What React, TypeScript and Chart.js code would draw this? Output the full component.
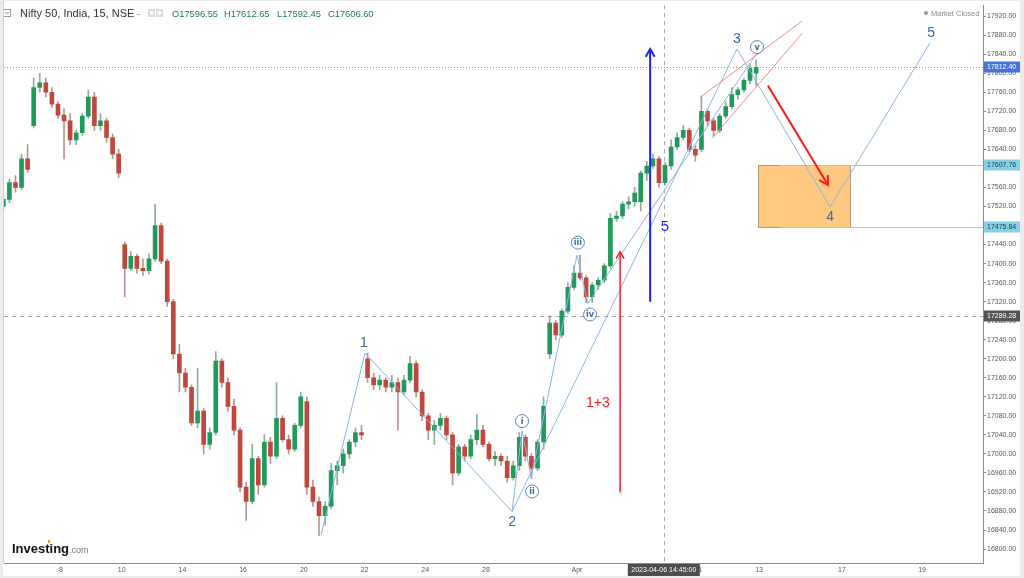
import React, { useEffect, useRef } from "react";
import { Chart, registerables } from "chart.js";

Chart.register(...registerables);

// ---------- DATA ----------
// sessions (trading days): 0 = Mar 3 (partial), 1 = Mar 6, 2 = Mar 8 ... 24 = Apr 12
const sessionDates = [
  "2023-03-03", "2023-03-06", "2023-03-08", "2023-03-09", "2023-03-10",
  "2023-03-13", "2023-03-14", "2023-03-15", "2023-03-16", "2023-03-17",
  "2023-03-20", "2023-03-21", "2023-03-22", "2023-03-23", "2023-03-24",
  "2023-03-27", "2023-03-28", "2023-03-29", "2023-03-31", "2023-04-03",
  "2023-04-05", "2023-04-06", "2023-04-10", "2023-04-11", "2023-04-12",
];
const candlesPerSession = 5;

const opens = [
  17520, 17535, 17570, 17560, 17620,
  17690, 17770, 17780, 17760, 17735,
  17712, 17700, 17660, 17675, 17710,
  17750, 17690, 17700, 17665, 17630,
  17440, 17390, 17415, 17390, 17385,
  17410, 17480, 17405, 17320, 17210,
  17170, 17140, 17065, 17090, 17020,
  17045, 17195, 17150, 17100, 17050,
  16930, 16900, 16990, 16935, 17025,
  16995, 17075, 17030, 17010, 17060,
  17110, 16930, 16900, 16870, 16890,
  16965, 16975, 17000, 17025, 17045,
  17200, 17160, 17145, 17155, 17140,
  17150, 17130, 17155, 17190, 17130,
  17080, 17050, 17060, 17075, 17040,
  16960, 17015, 16995, 17030, 17050,
  17020, 16990, 16995, 16985, 16950,
  16975, 17035, 16995, 16970, 17025,
  17210, 17275, 17250, 17300, 17350,
  17380, 17370, 17330, 17355, 17365,
  17395, 17495, 17500, 17525, 17530,
  17530, 17590, 17605, 17620, 17570,
  17605, 17645, 17665, 17680, 17640,
  17640, 17720, 17700, 17680, 17710,
  17730, 17755, 17765, 17785, 17800,
];
const highs = [
  17545, 17578, 17585, 17630, 17650,
  17790, 17800, 17790, 17770, 17740,
  17725, 17715, 17680, 17715, 17765,
  17760, 17715, 17705, 17672, 17640,
  17445, 17425, 17420, 17410, 17420,
  17525, 17485, 17410, 17325, 17230,
  17180, 17145, 17180, 17095, 17055,
  17215, 17200, 17160, 17115, 17055,
  16940, 17020, 16995, 17040, 17035,
  17150, 17080, 17040, 17065, 17130,
  17120, 16945, 16910, 16900, 16980,
  16985, 17010, 17030, 17055, 17060,
  17212, 17170, 17165, 17160, 17165,
  17160, 17165, 17205, 17195, 17135,
  17085, 17070, 17085, 17080, 17045,
  17020, 17020, 17040, 17083, 17060,
  17025, 17005, 17000, 16995, 16985,
  17045, 17040, 17000, 17030, 17120,
  17290, 17280, 17305, 17360, 17395,
  17418, 17375, 17360, 17370, 17400,
  17505, 17510, 17530, 17540, 17560,
  17595, 17615, 17630, 17625, 17612,
  17660, 17675, 17690, 17685, 17648,
  17752, 17725, 17705, 17715, 17740,
  17770, 17770, 17790, 17820, 17828,
];
const lows = [
  17510, 17528, 17550, 17555, 17592,
  17685, 17760, 17750, 17728, 17705,
  17620, 17650, 17650, 17670, 17705,
  17680, 17680, 17655, 17620, 17580,
  17330, 17385, 17380, 17375, 17378,
  17405, 17400, 17310, 17200, 17130,
  17130, 17060, 17055, 17000, 17010,
  17040, 17140, 17090, 17040, 16920,
  16860, 16895, 16915, 16930, 16980,
  16990, 17025, 17000, 17005, 17055,
  16915, 16890, 16828, 16850, 16885,
  16935, 16960, 16990, 17015, 17030,
  17150, 17135, 17135, 17130, 17130,
  17050, 17125, 17150, 17120, 17070,
  17030, 17020, 17050, 17030, 16935,
  16955, 16985, 16990, 17020, 17015,
  16985, 16975, 16975, 16940, 16945,
  16965, 16985, 16948, 16965, 17010,
  17200, 17240, 17245, 17295, 17345,
  17365, 17318, 17318, 17345, 17360,
  17390, 17488, 17495, 17515, 17520,
  17510, 17575, 17600, 17560, 17565,
  17598, 17640, 17660, 17635, 17615,
  17635, 17690, 17668, 17675, 17705,
  17725, 17745, 17760, 17778, 17774,
];
const closes = [
  17535, 17570, 17560, 17620, 17598,
  17770, 17780, 17760, 17735, 17712,
  17700, 17660, 17675, 17710, 17750,
  17690, 17700, 17665, 17630, 17590,
  17390, 17415, 17390, 17385, 17410,
  17480, 17405, 17320, 17210, 17170,
  17140, 17065, 17090, 17020, 17045,
  17195, 17150, 17100, 17050, 16930,
  16900, 16990, 16935, 17025, 16995,
  17075, 17030, 17010, 17060, 17120,
  16930, 16900, 16870, 16890, 16965,
  16975, 17000, 17025, 17045, 17040,
  17160, 17145, 17155, 17140, 17150,
  17130, 17155, 17190, 17130, 17080,
  17050, 17060, 17075, 17040, 16960,
  17015, 16995, 17030, 17050, 17020,
  16990, 16995, 16985, 16950, 16975,
  17035, 16995, 16970, 17025, 17100,
  17275, 17250, 17300, 17350, 17380,
  17370, 17330, 17355, 17365, 17395,
  17495, 17500, 17525, 17530, 17548,
  17590, 17605, 17620, 17570, 17606.6,
  17645, 17665, 17680, 17640, 17628,
  17720, 17700, 17680, 17710, 17730,
  17755, 17765, 17785, 17810, 17812.4,
];

// axes
const xMin = 0.122;
const xMax = 32.376;
const yMin = 16770.7;
const yMax = 17943;
const xTickValues = [2, 4, 6, 8, 10, 12, 14, 16, 19, 23, 25, 27.73, 30.37];
const xTickLabels = ["8", "10", "14", "16", "20", "22", "24", "28", "Apr", "11", "13", "17", "19"];
const yTickValues = [
  16800, 16840, 16880, 16920, 16960, 17000, 17040, 17080, 17120, 17160, 17200,
  17240, 17280, 17320, 17360, 17400, 17440, 17480, 17520, 17560, 17600, 17640,
  17680, 17720, 17760, 17800, 17840, 17880, 17920,
];

// header / reference values
const headerTitle = "Nifty 50, India, 15, NSE";
const headerOHLC = ["O17596.55", "H17612.65", "L17592.45", "C17606.60"];
const lastPrice = 17812.4;
const crosshairX = 21.86;
const crosshairPrice = 17289.28;
const crosshairTimeLabel = "2023-04-06 14:45:00";
const zoneTop = 17607.76;
const zoneBottom = 17475.84;
const zoneStartX = 24.97;
const zoneEndX = 28.0;
const zoneLineStartX = 25.72;

// Elliott wave annotations (x in sessions, y in price)
const mainWaveX = [10.567, 12.016, 16.86, 24.27, 27.34, 30.63];
const mainWaveY = [16829, 17212, 16879, 17851, 17519, 17864];
const mainLabelText = ["1", "2", "3", "4", "5"];
const mainLabelX = [11.98, 16.86, 24.27, 27.34, 30.67];
const mainLabelY = [17232, 16856, 17872, 17498, 17884];

const subWaveX = [16.86, 17.19, 17.49, 19.0, 19.36, 24.9];
const subWaveY = [16879, 17049, 16950, 17418, 17316, 17840];
const subLabelText = ["i", "ii", "iii", "iv", "v"];
const subLabelX = [17.19, 17.52, 19.03, 19.43, 24.93];
const subLabelY = [17069, 16921, 17444, 17293, 17855];

const channelUpperX = [23.05, 26.42];
const channelUpperY = [17749, 17910];
const channelLowerX = [23.45, 26.42];
const channelLowerY = [17663, 17884];

const redDownArrowX = [25.29, 27.27];
const redDownArrowY = [17774, 17565];
const redUpArrowX = 20.42;
const redUpArrowY = [16919, 17425];
const redUpText = "1+3";
const redUpTextPos = [19.69, 17107];
const blueArrowX = 21.41;
const blueArrowY = [17320, 17851];
const blueText = "5";
const blueTextPos = [21.9, 17477];

// ---------- helpers ----------
const upColor = "#1f9a5b";
const downColor = "#c0473d";

function buildCandles() {
  const bodies: any[] = [];
  const wicks: any[] = [];
  const bodyColors: string[] = [];
  const wickColors: string[] = [];
  for (let i = 0; i < closes.length; i++) {
    const session = Math.floor(i / candlesPerSession);
    const slot = i % candlesPerSession;
    const x = session + (slot + 0.5) / candlesPerSession;
    const up = closes[i] >= opens[i];
    bodies.push({ x, y: [opens[i], closes[i]] });
    wicks.push({ x, y: [lows[i], highs[i]] });
    bodyColors.push(up ? upColor : downColor);
    wickColors.push(up ? "rgba(90,140,115,0.7)" : "rgba(150,105,100,0.7)");
  }
  return { bodies, wicks, bodyColors, wickColors };
}

function arrowHead(ctx: CanvasRenderingContext2D, x1: number, y1: number, x2: number, y2: number, len: number) {
  const ang = Math.atan2(y2 - y1, x2 - x1);
  const a1 = ang + Math.PI - Math.PI / 6;
  const a2 = ang + Math.PI + Math.PI / 6;
  ctx.beginPath();
  ctx.moveTo(x2 + Math.cos(a1) * len, y2 + Math.sin(a1) * len);
  ctx.lineTo(x2, y2);
  ctx.lineTo(x2 + Math.cos(a2) * len, y2 + Math.sin(a2) * len);
  ctx.stroke();
}

function seg(ctx: CanvasRenderingContext2D, x1: number, y1: number, x2: number, y2: number) {
  ctx.beginPath();
  ctx.moveTo(x1, y1);
  ctx.lineTo(x2, y2);
  ctx.stroke();
}

const overlayPlugin = {
  id: "overlay",
  beforeDraw(chart: any) {
    const { ctx, width, height } = chart;
    ctx.save();
    ctx.fillStyle = "#ffffff";
    ctx.fillRect(0, 0, width, height);
    ctx.restore();
  },
  beforeDatasetsDraw(chart: any) {
    const { ctx, chartArea: a, scales } = chart;
    const X = (v: number) => scales.x.getPixelForValue(v);
    const Y = (v: number) => scales.y.getPixelForValue(v);
    ctx.save();
    ctx.beginPath();
    ctx.rect(a.left, a.top, a.right - a.left, a.bottom - a.top);
    ctx.clip();
    ctx.lineWidth = 1;
    // crosshair
    ctx.strokeStyle = "#a8a8a8";
    ctx.setLineDash([4, 4]);
    const cx = Math.round(X(crosshairX)) + 0.5;
    seg(ctx, cx, a.top, cx, a.bottom);
    const cy = Math.round(Y(crosshairPrice)) + 0.5;
    seg(ctx, a.left, cy, a.right, cy);
    // last price dotted line
    ctx.strokeStyle = "#7d98ee";
    ctx.setLineDash([1, 2]);
    const ly = Math.round(Y(lastPrice)) + 0.5;
    seg(ctx, a.left, ly, a.right, ly);
    ctx.setLineDash([]);
    // zone box
    const bx1 = Math.round(X(zoneStartX)) + 0.5;
    const bx2 = Math.round(X(zoneEndX)) + 0.5;
    const by1 = Math.round(Y(zoneTop)) + 0.5;
    const by2 = Math.round(Y(zoneBottom)) + 0.5;
    ctx.fillStyle = "#ffc880";
    ctx.fillRect(bx1, by1, bx2 - bx1, by2 - by1);
    ctx.strokeStyle = "#b79c7c";
    ctx.strokeRect(bx1, by1, bx2 - bx1, by2 - by1);
    ctx.strokeStyle = "#8ed0e6";
    const lx = X(zoneLineStartX);
    seg(ctx, lx, by1, a.right, by1);
    seg(ctx, lx, by2, a.right, by2);
    ctx.restore();
  },
  afterDatasetsDraw(chart: any) {
    const { ctx, chartArea: a, scales } = chart;
    const X = (v: number) => scales.x.getPixelForValue(v);
    const Y = (v: number) => scales.y.getPixelForValue(v);
    ctx.save();
    ctx.beginPath();
    ctx.rect(a.left, a.top, a.right - a.left, a.bottom - a.top);
    ctx.clip();

    // wave lines
    ctx.strokeStyle = "#8db6e0";
    ctx.lineWidth = 1;
    ctx.beginPath();
    mainWaveX.forEach((v, i) => {
      if (i === 0) ctx.moveTo(X(v), Y(mainWaveY[i]));
      else ctx.lineTo(X(v), Y(mainWaveY[i]));
    });
    ctx.stroke();
    ctx.beginPath();
    subWaveX.forEach((v, i) => {
      if (i === 0) ctx.moveTo(X(v), Y(subWaveY[i]));
      else ctx.lineTo(X(v), Y(subWaveY[i]));
    });
    ctx.stroke();

    // red channel
    ctx.strokeStyle = "#f48a8a";
    seg(ctx, X(channelUpperX[0]), Y(channelUpperY[0]), X(channelUpperX[1]), Y(channelUpperY[1]));
    seg(ctx, X(channelLowerX[0]), Y(channelLowerY[0]), X(channelLowerX[1]), Y(channelLowerY[1]));

    // red down arrow
    ctx.strokeStyle = "#ff1a1a";
    ctx.lineWidth = 2;
    const rx1 = X(redDownArrowX[0]), ry1 = Y(redDownArrowY[0]);
    const rx2 = X(redDownArrowX[1]), ry2 = Y(redDownArrowY[1]);
    seg(ctx, rx1, ry1, rx2, ry2);
    arrowHead(ctx, rx1, ry1, rx2, ry2, 10);

    // red up arrow
    ctx.lineWidth = 1.5;
    const ux = X(redUpArrowX);
    seg(ctx, ux, Y(redUpArrowY[0]), ux, Y(redUpArrowY[1]));
    arrowHead(ctx, ux, Y(redUpArrowY[0]), ux, Y(redUpArrowY[1]), 8);
    ctx.fillStyle = "#ff1a1a";
    ctx.font = "14px 'Liberation Sans', Arial, sans-serif";
    ctx.textAlign = "center";
    ctx.textBaseline = "middle";
    ctx.fillText(redUpText, X(redUpTextPos[0]), Y(redUpTextPos[1]));

    // blue arrow
    ctx.strokeStyle = "#1f1fff";
    ctx.lineWidth = 2;
    const bx = X(blueArrowX);
    seg(ctx, bx, Y(blueArrowY[0]), bx, Y(blueArrowY[1]));
    arrowHead(ctx, bx, Y(blueArrowY[0]), bx, Y(blueArrowY[1]), 9);
    ctx.fillStyle = "#1f1fff";
    ctx.font = "15px 'Liberation Sans', Arial, sans-serif";
    ctx.fillText(blueText, X(blueTextPos[0]), Y(blueTextPos[1]));

    // wave numbers
    ctx.fillStyle = "#3b6b9c";
    ctx.font = "14px 'Liberation Sans', Arial, sans-serif";
    mainLabelText.forEach((t, i) => {
      ctx.fillText(t, X(mainLabelX[i]), Y(mainLabelY[i]));
    });

    // roman circles
    ctx.lineWidth = 1;
    subLabelText.forEach((t, i) => {
      const px = X(subLabelX[i]);
      const py = Y(subLabelY[i]);
      ctx.beginPath();
      ctx.arc(px, py, 6.5, 0, Math.PI * 2);
      ctx.fillStyle = "#ffffff";
      ctx.fill();
      ctx.strokeStyle = "#5b87b8";
      ctx.stroke();
      ctx.fillStyle = "#3b6b9c";
      ctx.font = "bold 8px 'DejaVu Sans', sans-serif";
      ctx.fillText(t, px, py + 0.5);
    });
    ctx.restore();
  },
  afterDraw(chart: any) {
    const { ctx, chartArea: a, scales, width, height } = chart;
    const X = (v: number) => scales.x.getPixelForValue(v);
    const Y = (v: number) => scales.y.getPixelForValue(v);
    ctx.save();
    // axis price labels
    const tag = (v: number, bg: string, fg: string) => {
      const yy = Math.round(Y(v));
      ctx.fillStyle = bg;
      ctx.fillRect(a.right + 1, yy - 5.5, 36, 11);
      ctx.fillStyle = fg;
      ctx.font = "7px 'Liberation Sans', Arial, sans-serif";
      ctx.textAlign = "left";
      ctx.textBaseline = "middle";
      ctx.fillText(v.toFixed(2), a.right + 4, yy + 0.5);
    };
    tag(lastPrice, "#4672dc", "#ffffff");
    tag(zoneTop, "#86d0e4", "#1c3c4a");
    tag(zoneBottom, "#86d0e4", "#1c3c4a");
    tag(crosshairPrice, "#555555", "#ffffff");

    // crosshair time label
    const cx = X(crosshairX);
    ctx.fillStyle = "#4d4d4d";
    ctx.fillRect(cx - 36, a.bottom + 1, 72, 13);
    ctx.fillStyle = "#ffffff";
    ctx.font = "7px 'Liberation Sans', Arial, sans-serif";
    ctx.textAlign = "center";
    ctx.textBaseline = "middle";
    ctx.fillText(crosshairTimeLabel, cx, a.bottom + 7.5);

    // header
    ctx.strokeStyle = "#9a9a9a";
    ctx.lineWidth = 1;
    ctx.strokeRect(3.5, 9.5, 7, 7);
    seg(ctx, 5, 13, 9, 13);
    ctx.fillStyle = "#333333";
    ctx.font = "11px 'Liberation Sans', Arial, sans-serif";
    ctx.textAlign = "left";
    ctx.textBaseline = "middle";
    ctx.fillText(headerTitle, 20, 14);
    ctx.fillStyle = "#b0b0b0";
    ctx.fillRect(137, 14, 3, 1);
    ctx.fillStyle = "#dcdcdc";
    ctx.fillRect(148, 9, 7, 8);
    ctx.fillRect(156, 9, 7, 8);
    ctx.fillStyle = "#ffffff";
    ctx.beginPath();
    ctx.arc(151.5, 13, 2, 0, Math.PI * 2);
    ctx.arc(159.5, 13, 2, 0, Math.PI * 2);
    ctx.fill();
    ctx.fillStyle = "#1d7d48";
    ctx.font = "9.3px 'Liberation Sans', Arial, sans-serif";
    const ohlcX = [172, 224, 277, 328];
    headerOHLC.forEach((t, i) => ctx.fillText(t, ohlcX[i], 14));

    // market closed
    ctx.fillStyle = "#999999";
    ctx.beginPath();
    ctx.arc(926, 13, 2, 0, Math.PI * 2);
    ctx.fill();
    ctx.fillStyle = "#8a8a8a";
    ctx.font = "7.5px 'Liberation Sans', Arial, sans-serif";
    ctx.fillText("Market Closed", 931, 13.5);

    // logo
    ctx.fillStyle = "#111111";
    ctx.font = "bold 13px 'Liberation Sans', Arial, sans-serif";
    ctx.textBaseline = "alphabetic";
    ctx.fillText("Investing", 12, 553);
    const w = ctx.measureText("Investing").width;
    ctx.fillStyle = "#7a7a7a";
    ctx.font = "9px 'Liberation Sans', Arial, sans-serif";
    ctx.fillText(".com", 12 + w, 553);
    ctx.fillStyle = "#f29b20";
    ctx.fillRect(48, 540, 2, 3);

    // frame
    ctx.fillStyle = "#ececec";
    ctx.fillRect(0, 0, width, 1);
    ctx.fillRect(0, 0, 3, height);
    ctx.fillRect(width - 4, 0, 4, height);
    ctx.fillRect(0, height - 2, width, 2);
    ctx.fillStyle = "#cfcfcf";
    ctx.fillRect(3, 1, 1, a.bottom - 1);
    ctx.restore();
  },
};

export default function App() {
  const canvasRef = useRef<HTMLCanvasElement | null>(null);
  useEffect(() => {
    if (!canvasRef.current) return;
    const { bodies, wicks, bodyColors, wickColors } = buildCandles();
    const chart = new Chart(canvasRef.current, {
      type: "bar",
      data: {
        datasets: [
          {
            label: "body",
            data: bodies,
            backgroundColor: bodyColors,
            borderWidth: 0,
            barThickness: 4,
            minBarLength: 1,
            grouped: false,
            borderSkipped: false,
          } as any,
          {
            label: "wick",
            data: wicks,
            backgroundColor: wickColors,
            borderWidth: 0,
            barThickness: 1,
            minBarLength: 1,
            grouped: false,
            borderSkipped: false,
          } as any,
        ],
      },
      options: {
        responsive: false,
        animation: false,
        events: [],
        layout: { padding: { left: 4, top: 2, right: 0, bottom: 0 } },
        plugins: { legend: { display: false }, tooltip: { enabled: false } },
        scales: {
          x: {
            type: "linear",
            min: xMin,
            max: xMax,
            offset: false,
            afterFit: (s: any) => {
              s.height = 15;
            },
            afterBuildTicks: (s: any) => {
              s.ticks = xTickValues.map((v) => ({ value: v }));
            },
            ticks: {
              autoSkip: false,
              maxRotation: 0,
              padding: 3,
              color: "#555555",
              font: { size: 7, family: "'Liberation Sans', Arial, sans-serif" },
              callback: (_v: any, i: number) => xTickLabels[i],
            },
            grid: { display: true, drawOnChartArea: false, drawTicks: false, offset: false },
            border: { display: true, color: "#8c8c8c" },
          },
          y: {
            type: "linear",
            position: "right",
            min: yMin,
            max: yMax,
            beginAtZero: false,
            afterFit: (s: any) => {
              s.width = 41;
            },
            afterBuildTicks: (s: any) => {
              s.ticks = yTickValues.map((v) => ({ value: v }));
            },
            ticks: {
              autoSkip: false,
              padding: 1,
              color: "#555555",
              font: { size: 7, family: "'Liberation Sans', Arial, sans-serif" },
              callback: (v: any) => Number(v).toFixed(2),
            },
            grid: { display: true, drawOnChartArea: false, drawTicks: true, tickLength: 3, color: "#8c8c8c" },
            border: { display: true, color: "#8c8c8c" },
          },
        },
      } as any,
      plugins: [overlayPlugin],
    });
    return () => chart.destroy();
  }, []);
  return (
    <div style={{ position: "fixed", left: 0, top: 0, width: 1024, height: 578, background: "#fff" }}>
      <canvas ref={canvasRef} width={1024} height={578} data-sessions={sessionDates.length} />
    </div>
  );
}
